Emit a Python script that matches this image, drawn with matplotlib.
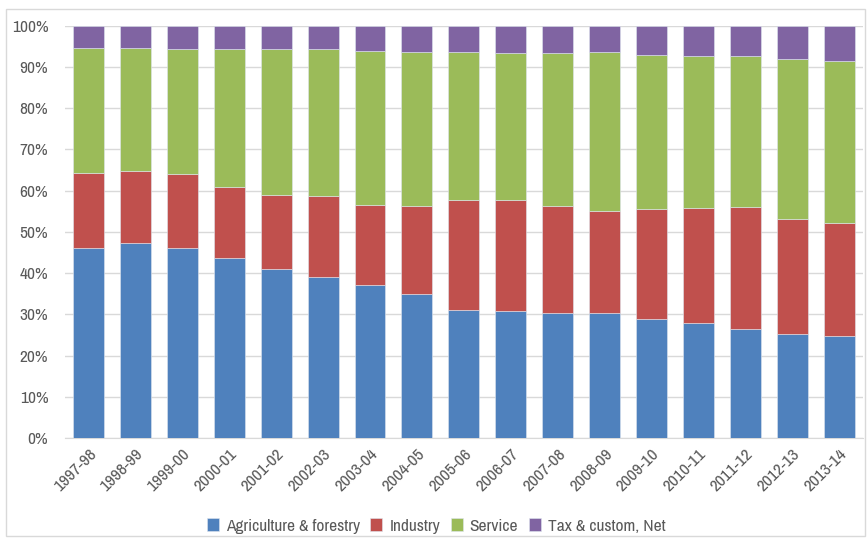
import numpy as np
import matplotlib.pyplot as plt
from matplotlib import font_manager
from matplotlib.patches import Rectangle
from matplotlib.ticker import PercentFormatter

# Share of GDP by sector (%)
years = ["1997-98", "1998-99", "1999-00", "2000-01", "2001-02", "2002-03",
         "2003-04", "2004-05", "2005-06", "2006-07", "2007-08", "2008-09",
         "2009-10", "2010-11", "2011-12", "2012-13", "2013-14"]
agriculture = [46.0, 47.2, 46.2, 43.6, 40.9, 39.0, 37.1, 34.9, 31.1, 30.9,
               30.2, 30.3, 28.8, 27.8, 26.5, 25.2, 24.7]
industry = [18.4, 17.5, 17.8, 17.3, 18.0, 19.8, 19.4, 21.4, 26.7, 26.8,
            26.1, 24.8, 26.8, 28.1, 29.6, 27.9, 27.4]
service = [30.1, 29.8, 30.4, 33.4, 35.4, 35.5, 37.5, 37.4, 35.8, 35.8,
           37.0, 38.5, 37.2, 36.8, 36.6, 38.9, 39.3]
tax = [5.5, 5.5, 5.6, 5.7, 5.7, 5.7, 6.0, 6.3, 6.4, 6.5,
       6.7, 6.4, 7.2, 7.3, 7.3, 8.0, 8.6]

series = [("Agriculture & forestry", agriculture, "#4F81BD"),
          ("Industry", industry, "#C0504D"),
          ("Service", service, "#9BBB59"),
          ("Tax & custom, Net", tax, "#8064A2")]

# narrow font if one is installed, the original uses a condensed face
names = {f.name for f in font_manager.fontManager.ttflist}
narrow = [n for n in names if "Narrow" in n or "Condensed" in n]
plt.rcParams['font.family'] = sorted(narrow)[:1] + ['DejaVu Sans']
plt.rcParams['font.stretch'] = 'condensed'
txt = "#595959"

fig = plt.figure(figsize=(8.67, 5.38), dpi=100)
fig.patches.append(Rectangle((0.007, 0.004), 0.991, 0.979, transform=fig.transFigure,
                             fill=False, edgecolor="#D9D9D9", linewidth=1))
ax = fig.add_axes([0.075, 0.186, 0.920, 0.766])

x = np.arange(len(years))
bottom = np.zeros(len(years))
for name, vals, color in series:
    vals = np.array(vals)
    ax.bar(x, vals, 0.66, bottom=bottom, color=color, label=name,
           edgecolor="#dfe6f0", linewidth=0.4, zorder=3)
    bottom += vals

ax.set_ylim(0, 100)
ax.set_xlim(-0.5, len(years) - 0.5)
ax.set_yticks(np.arange(0, 101, 10))
ax.yaxis.set_major_formatter(PercentFormatter(decimals=0))
ax.grid(axis='y', color="#D9D9D9", linewidth=1, zorder=0)
ax.set_xticks(x)
ax.set_xticklabels(years, rotation=45, ha='right', rotation_mode='anchor')
ax.tick_params(axis='both', length=0, colors=txt, labelsize=12.5)
ax.tick_params(axis='x', pad=6)
ax.tick_params(axis='y', pad=12)
for side in ['left', 'right', 'top']:
    ax.spines[side].set_visible(False)
ax.spines['bottom'].set_color("#D9D9D9")

ax.legend(loc='lower center', bbox_to_anchor=(0.465, -0.27), ncol=4, frameon=False,
          handlelength=0.7, handleheight=0.7, handletextpad=0.4, columnspacing=0.6,
          fontsize=12.5, labelcolor=txt)

fig.savefig("out.png", dpi=100)
